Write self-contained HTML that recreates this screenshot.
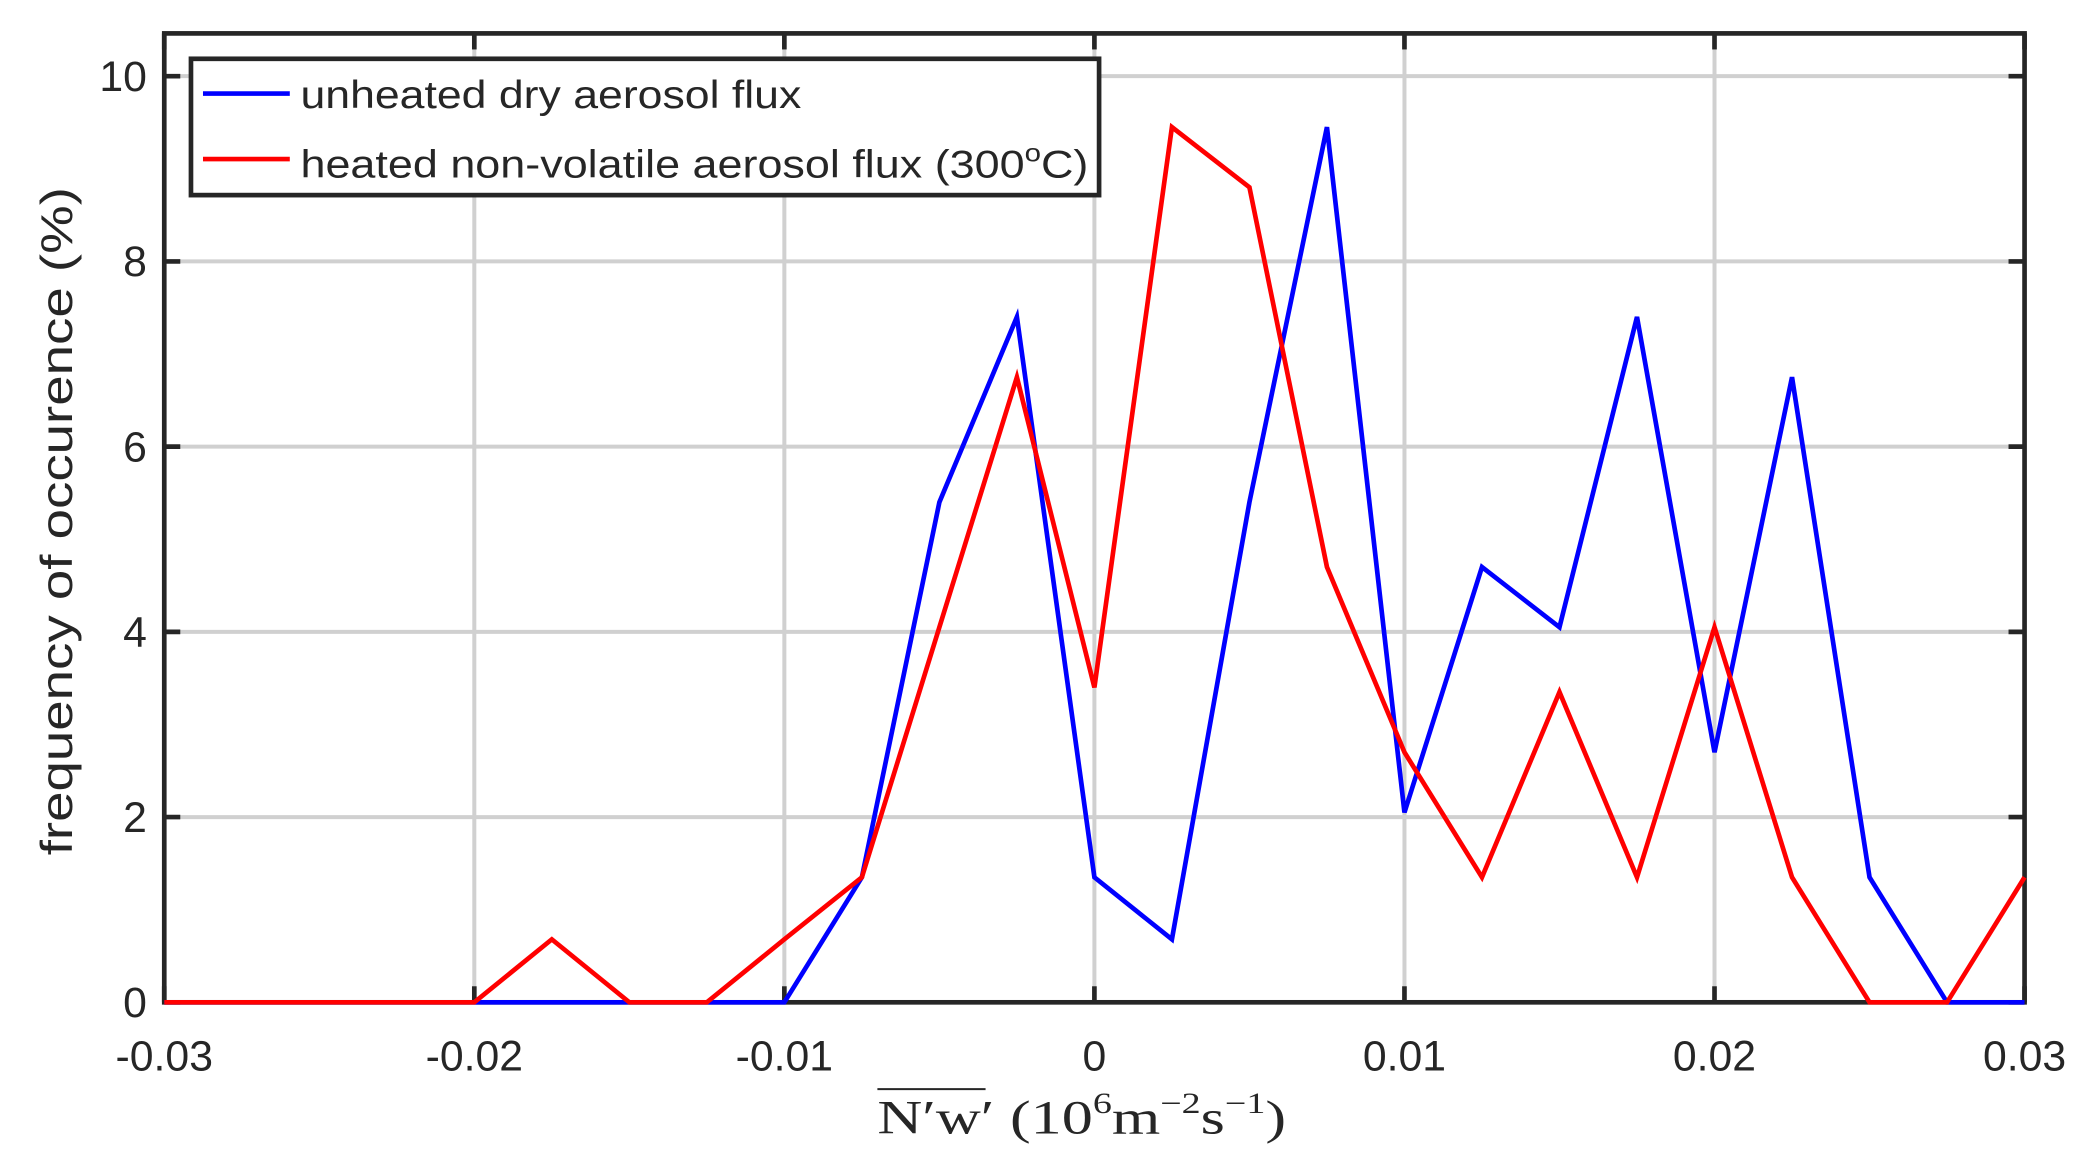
<!DOCTYPE html>
<html><head><meta charset="utf-8"><style>
html,body{margin:0;padding:0;background:#fff;}
svg{display:block;}
text{font-family:"Liberation Sans",sans-serif;fill:#262626;}
</style></head><body>
<svg id="chart" width="2094" height="1156" viewBox="0 0 1568 865" preserveAspectRatio="none" xmlns="http://www.w3.org/2000/svg">
<g id="grid"></g>
<rect x="123" y="25" width="1393" height="725" fill="none" stroke="#262626" stroke-width="3.5"/>
<g id="ticks"></g>
<g id="series"></g>
<text transform="translate(54,390) rotate(-90)" text-anchor="middle" font-size="33" textLength="500" lengthAdjust="spacingAndGlyphs">frequency of occurence (%)</text>
<text x="657" y="848" font-size="36" style="font-family:'Liberation Serif',serif" textLength="306" lengthAdjust="spacingAndGlyphs">N′w′ (10<tspan font-size="22" dy="-15">6</tspan><tspan dy="15">m</tspan><tspan font-size="22" dy="-15">−2</tspan><tspan dy="15">s</tspan><tspan font-size="22" dy="-15">−1</tspan><tspan dy="15">)</tspan></text>
<line x1="657" y1="815" x2="738" y2="815" stroke="#262626" stroke-width="1.5"/>
<g>
<rect x="143" y="44" width="680" height="102" fill="#fff" stroke="#262626" stroke-width="3.5"/>
<line x1="152" y1="70" x2="217" y2="70" stroke="#0000ff" stroke-width="3.5"/>
<text x="225" y="81" font-size="29" textLength="375" lengthAdjust="spacingAndGlyphs">unheated dry aerosol flux</text>
<line x1="152" y1="119" x2="217" y2="119" stroke="#ff0000" stroke-width="3.5"/>
<text x="225" y="133" font-size="29" textLength="590" lengthAdjust="spacingAndGlyphs">heated non-volatile aerosol flux (300<tspan font-size="19" dy="-12">o</tspan><tspan dy="12">C)</tspan></text>
</g>
</svg>
<script>
const xValues=[-0.03,-0.0275,-0.025,-0.0225,-0.02,-0.0175,-0.015,-0.0125,-0.01,-0.0075,-0.005,-0.0025,0,0.0025,0.005,0.0075,0.01,0.0125,0.015,0.0175,0.02,0.0225,0.025,0.0275,0.03];
const unheated=[0,0,0,0,0,0,0,0,0,1.35,5.4,7.4,1.35,0.68,5.4,9.45,2.05,4.7,4.05,7.4,2.7,6.75,1.35,0,0];
const heated=[0,0,0,0,0,0.68,0,0,0.68,1.35,4.05,6.75,3.4,9.45,8.8,4.7,2.7,1.35,3.35,1.35,4.05,1.35,0,0,1.35];
const xTicks=[-0.03,-0.02,-0.01,0,0.01,0.02,0.03];
const xTickLabels=["-0.03","-0.02","-0.01","0","0.01","0.02","0.03"];
const yTicks=[0,2,4,6,8,10];
const yTickLabels=["0","2","4","6","8","10"];
const L=123,R=1516,T=25,B=750;
const xs=v=>L+(v+0.03)/0.06*(R-L);
const ys=v=>B-v*(B-57)/10;
const NS="http://www.w3.org/2000/svg";
const grid=document.getElementById('grid'),ticks=document.getElementById('ticks'),series=document.getElementById('series');
function mk(tag,attrs,parent){const e=document.createElementNS(NS,tag);for(const k in attrs)e.setAttribute(k,attrs[k]);parent.appendChild(e);return e;}
xTicks.forEach((v,i)=>{
  const g=mk('line',{x1:xs(v),x2:xs(v),y1:T,y2:B,stroke:'#d0d0d0','stroke-width':3},grid);
  
  
  const t1=mk('line',{x1:xs(v),x2:xs(v),y1:B,y2:B-12,stroke:'#262626','stroke-width':3.5},ticks);
  
  
  const t2=mk('line',{x1:xs(v),x2:xs(v),y1:T,y2:T+12,stroke:'#262626','stroke-width':3.5},ticks);
  
  
  const tx=mk('text',{x:xs(v),y:801,'text-anchor':'middle','font-size':32},ticks);
  tx.textContent=xTickLabels[i];
  
  
});
yTicks.forEach((v,i)=>{
  const g=mk('line',{x1:L,x2:R,y1:ys(v),y2:ys(v),stroke:'#d0d0d0','stroke-width':3},grid);
  
  
  const t1=mk('line',{x1:L,x2:L+12,y1:ys(v),y2:ys(v),stroke:'#262626','stroke-width':3.5},ticks);
  
  
  const t2=mk('line',{x1:R,x2:R-12,y1:ys(v),y2:ys(v),stroke:'#262626','stroke-width':3.5},ticks);
  
  
  const tx=mk('text',{x:110,y:ys(v)+11,'text-anchor':'end','font-size':32},ticks);
  tx.textContent=yTickLabels[i];
  
  
});
function line(vals,color,name){
  const p=mk('polyline',{points:vals.map((v,i)=>xs(xValues[i])+','+ys(v)).join(' '),fill:'none',stroke:color,'stroke-width':3.5,'stroke-linejoin':'miter'},series);
  
  
}
line(unheated,'#0000ff','unheated-line');
line(heated,'#ff0000','heated-line');
</script>
</body></html>
